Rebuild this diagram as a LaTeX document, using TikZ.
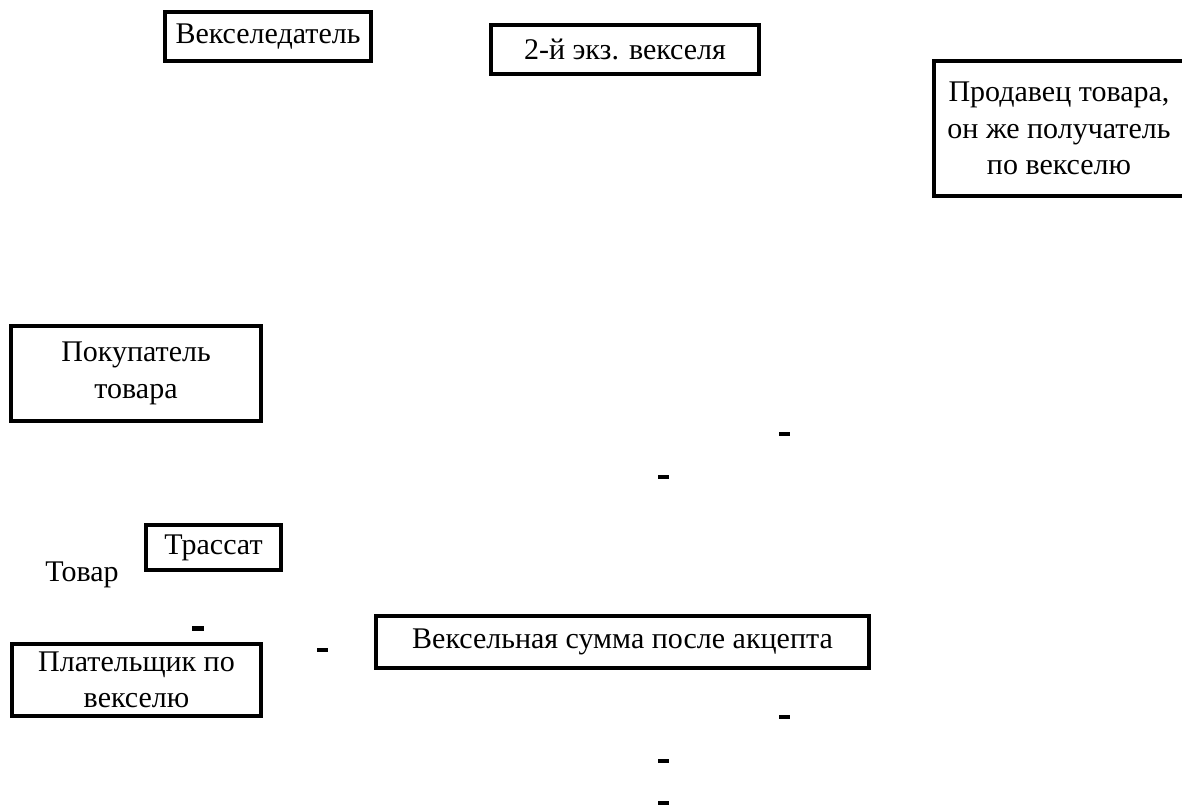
\documentclass[tikz,border=0pt]{standalone}
\usepackage{fontspec}
\setmainfont{Liberation Serif}

\tikzset{
  box/.style={rectangle, draw, line width=3.5pt, inner sep=0pt, align=center},
  tick/.style={rectangle, fill=black, inner sep=0pt, minimum width=11pt, minimum height=4pt}
}

\begin{document}
\begin{tikzpicture}[x=1pt, y=-1pt, every node/.style={font=\fontsize{30}{36.5}\selectfont}]
  \useasboundingbox (0,0) rectangle (1182,805);
  \node[box, minimum width=206, minimum height=49] (drawer) at (268,36.5) {Векселедатель};
  \node[box, minimum width=268, minimum height=49] (copy2) at (625,49.5) {2-й экз. векселя};
  \node[box, minimum width=250, minimum height=135] (seller) at (1059,128.5) {Продавец товара,\\он же получатель\\по векселю};
  \node[box, minimum width=250, minimum height=95] (buyer) at (136,373.5) {Покупатель\\товара};
  \node[box, minimum width=135, minimum height=45] (drawee) at (213.5,547.5) {Трассат};
  \node (goods) at (82,575) {Товар};
  \node[box, minimum width=249, minimum height=72] (payer) at (136.5,680) {Плательщик по\\векселю};
  \node[box, minimum width=493, minimum height=52] (sum) at (622.5,642) {Вексельная сумма после акцепта};
  \node[tick] (t1) at (784.5,434) {};
  \node[tick] (t2) at (663.5,477) {};
  \node[tick, minimum width=12pt, minimum height=5pt] (t3) at (198,628.5) {};
  \node[tick] (t4) at (322.5,650) {};
  \node[tick] (t5) at (784.5,717) {};
  \node[tick] (t6) at (663.5,761) {};
  \node[tick] (t7) at (663.5,803) {};
\end{tikzpicture}
\end{document}
